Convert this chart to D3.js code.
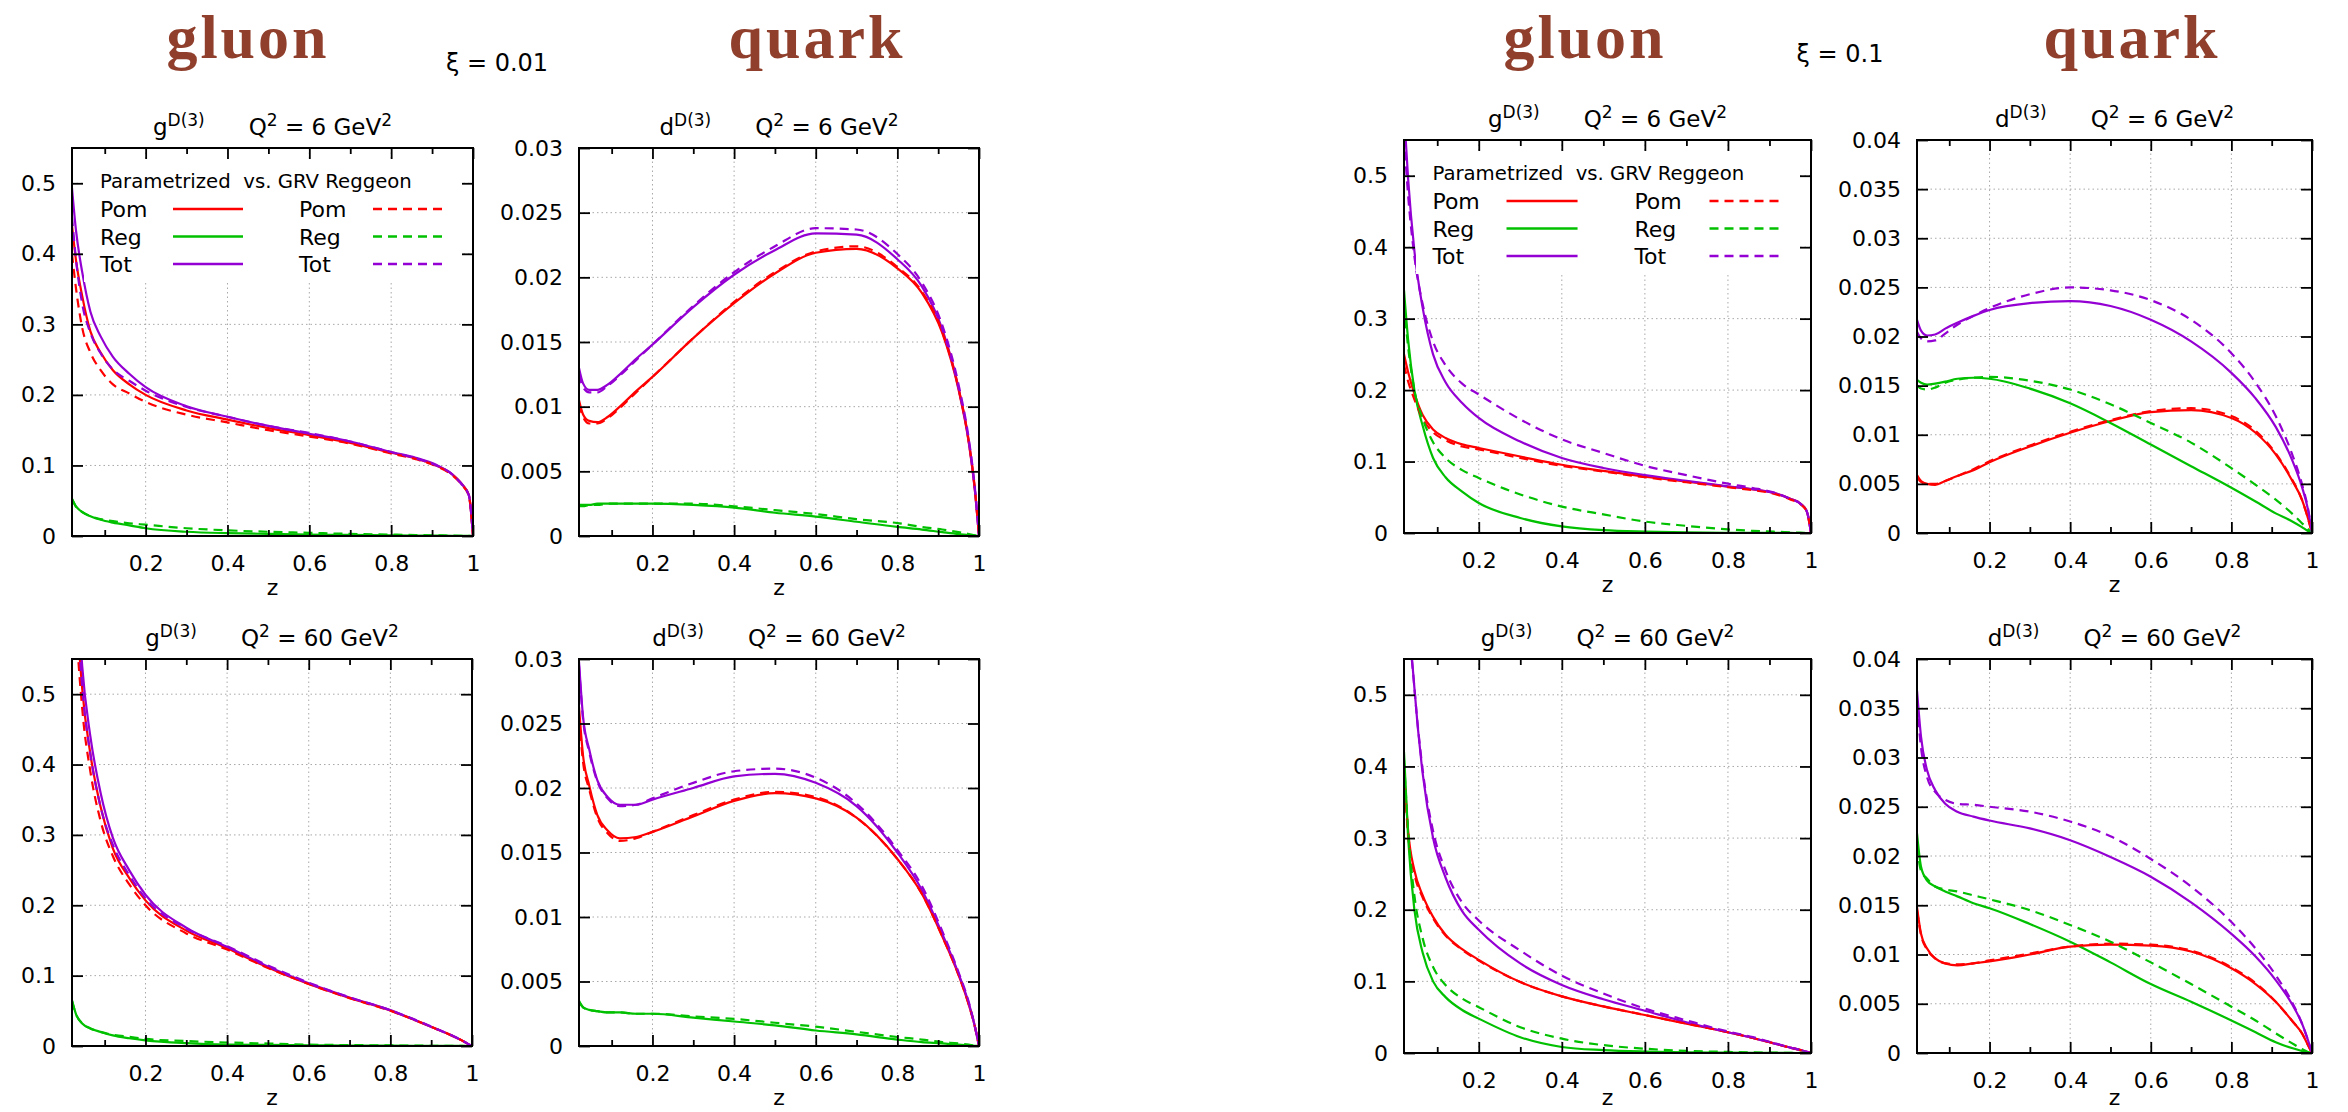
<!DOCTYPE html>
<html>
<head>
<meta charset="utf-8">
<script src="https://cdnjs.cloudflare.com/ajax/libs/d3/7.8.5/d3.min.js"></script>
<style>
body { margin: 0; background: #fff; }
text { font-family: "DejaVu Sans", sans-serif; fill: #000; }
</style>
</head>
<body>
<script>
var zGrid = [0.02, 0.03, 0.045, 0.065, 0.09, 0.12, 0.16, 0.2, 0.3, 0.4, 0.5, 0.6, 0.7, 0.8, 0.86, 0.91, 0.95, 0.975, 0.99, 1.0];

// gluon, xi = 0.01, Q2 = 6
var glu001q6_pomPar = [0.44, 0.39, 0.34, 0.29, 0.26, 0.235, 0.215, 0.200, 0.178, 0.165, 0.153, 0.143, 0.132, 0.118, 0.110, 0.100, 0.087, 0.072, 0.058, 0];
var glu001q6_regPar = [0.053, 0.042, 0.034, 0.028, 0.023, 0.019, 0.015, 0.011, 0.006, 0.004, 0.003, 0.002, 0.0015, 0.001, 0.0007, 0.0005, 0.0003, 0.0002, 0.0001, 0];
var glu001q6_totPar = [0.493, 0.432, 0.374, 0.318, 0.283, 0.254, 0.230, 0.211, 0.184, 0.169, 0.156, 0.145, 0.134, 0.119, 0.111, 0.101, 0.087, 0.072, 0.058, 0];
var glu001q6_pomGrv = [0.40, 0.35, 0.295, 0.26, 0.235, 0.215, 0.202, 0.190, 0.172, 0.161, 0.150, 0.141, 0.131, 0.117, 0.109, 0.099, 0.086, 0.071, 0.057, 0];
var glu001q6_regGrv = [0.052, 0.041, 0.034, 0.028, 0.024, 0.021, 0.018, 0.016, 0.011, 0.008, 0.006, 0.0045, 0.003, 0.002, 0.0014, 0.0009, 0.0005, 0.0003, 0.0001, 0];
var glu001q6_totGrv = [0.452, 0.391, 0.329, 0.288, 0.259, 0.236, 0.220, 0.206, 0.183, 0.169, 0.156, 0.146, 0.134, 0.119, 0.110, 0.100, 0.087, 0.071, 0.057, 0];

// quark, xi = 0.01, Q2 = 6
var qrk001q6_pomPar = [0.0105, 0.0094, 0.0089, 0.0088, 0.0092, 0.0100, 0.0112, 0.0123, 0.0153, 0.0180, 0.0203, 0.0219, 0.0222, 0.0207, 0.0188, 0.0157, 0.0113, 0.0072, 0.0035, 0];
var qrk001q6_regPar = [0.0024, 0.0024, 0.0024, 0.0025, 0.0025, 0.0025, 0.0025, 0.0025, 0.0024, 0.0022, 0.0018, 0.0015, 0.0011, 0.0007, 0.0005, 0.0003, 0.00015, 0.00008, 0.00003, 0];
var qrk001q6_totPar = [0.0130, 0.0118, 0.0113, 0.0113, 0.0117, 0.0125, 0.0137, 0.0148, 0.0177, 0.0202, 0.0221, 0.0234, 0.0233, 0.0214, 0.0193, 0.0160, 0.0114, 0.0073, 0.0035, 0];
var qrk001q6_pomGrv = [0.0102, 0.0092, 0.0087, 0.0087, 0.0091, 0.0099, 0.0111, 0.0123, 0.0153, 0.0181, 0.0204, 0.0220, 0.0224, 0.0208, 0.0189, 0.0158, 0.0114, 0.0073, 0.0036, 0];
var qrk001q6_regGrv = [0.0023, 0.0023, 0.0024, 0.0024, 0.0025, 0.0025, 0.0025, 0.0025, 0.0025, 0.0023, 0.0020, 0.0017, 0.0013, 0.0010, 0.0007, 0.0005, 0.0003, 0.00015, 0.00005, 0];
var qrk001q6_totGrv = [0.0125, 0.0115, 0.0111, 0.0111, 0.0116, 0.0124, 0.0136, 0.0148, 0.0178, 0.0204, 0.0224, 0.0238, 0.0237, 0.0218, 0.0196, 0.0163, 0.0117, 0.0075, 0.0037, 0];

// gluon, xi = 0.01, Q2 = 60
var glu001q60_pomPar = [0.83, 0.645, 0.508, 0.415, 0.34, 0.281, 0.239, 0.207, 0.164, 0.139, 0.1115, 0.088, 0.0683, 0.0505, 0.0367, 0.0248, 0.0149, 0.008, 0.003, 0];
var glu001q60_regPar = [0.065, 0.045, 0.032, 0.025, 0.020, 0.015, 0.011, 0.008, 0.004, 0.002, 0.0015, 0.001, 0.0007, 0.0005, 0.0003, 0.0002, 0.0001, 0.00005, 0.00002, 0];
var glu001q60_totPar = [0.89, 0.69, 0.54, 0.44, 0.36, 0.296, 0.25, 0.215, 0.168, 0.141, 0.113, 0.089, 0.069, 0.051, 0.037, 0.025, 0.015, 0.008, 0.003, 0];
var glu001q60_pomGrv = [0.78, 0.61, 0.48, 0.39, 0.32, 0.27, 0.23, 0.20, 0.16, 0.137, 0.111, 0.088, 0.068, 0.050, 0.037, 0.025, 0.015, 0.008, 0.003, 0];
var glu001q60_regGrv = [0.064, 0.045, 0.032, 0.025, 0.020, 0.016, 0.013, 0.010, 0.007, 0.005, 0.0035, 0.002, 0.0013, 0.0008, 0.0005, 0.0003, 0.0002, 0.0001, 0.00003, 0];
var glu001q60_totGrv = [0.844, 0.655, 0.512, 0.415, 0.34, 0.286, 0.243, 0.21, 0.167, 0.142, 0.1145, 0.09, 0.0693, 0.0508, 0.0375, 0.0253, 0.0152, 0.0081, 0.003, 0];

// quark, xi = 0.01, Q2 = 60
var qrk001q60_pomPar = [0.0263, 0.0225, 0.0202, 0.0179, 0.0167, 0.0161, 0.0162, 0.0166, 0.0178, 0.0190, 0.0196, 0.0192, 0.0177, 0.0145, 0.0118, 0.0085, 0.0055, 0.0032, 0.0015, 0];
var qrk001q60_regPar = [0.0035, 0.0030, 0.0028, 0.0027, 0.0026, 0.0026, 0.0025, 0.0025, 0.0022, 0.0019, 0.0016, 0.0012, 0.0009, 0.0005, 0.0003, 0.0002, 0.0001, 0.00005, 0.00002, 0];
var qrk001q60_totPar = [0.0298, 0.0255, 0.0230, 0.0206, 0.0193, 0.0187, 0.0187, 0.0191, 0.0200, 0.0209, 0.0211, 0.0204, 0.0186, 0.0150, 0.0121, 0.0087, 0.0056, 0.0033, 0.0015, 0];
var qrk001q60_pomGrv = [0.0255, 0.0220, 0.0199, 0.0177, 0.0165, 0.0159, 0.0161, 0.0166, 0.0179, 0.0191, 0.0197, 0.0193, 0.0177, 0.0145, 0.0118, 0.0085, 0.0055, 0.0032, 0.0015, 0];
var qrk001q60_regGrv = [0.0034, 0.0030, 0.0028, 0.0027, 0.0026, 0.0026, 0.0025, 0.0025, 0.0023, 0.0021, 0.0018, 0.0015, 0.0011, 0.0007, 0.0005, 0.0003, 0.0002, 0.0001, 0.00003, 0];
var qrk001q60_totGrv = [0.0295, 0.0253, 0.0228, 0.0205, 0.0192, 0.0186, 0.0187, 0.0192, 0.0204, 0.0213, 0.0215, 0.0208, 0.0188, 0.0152, 0.0124, 0.0089, 0.0057, 0.0034, 0.0015, 0];

// gluon, xi = 0.1, Q2 = 6
var glu01q6_pomPar = [0.25, 0.225, 0.195, 0.165, 0.145, 0.133, 0.124, 0.119, 0.107, 0.0955, 0.087, 0.079, 0.072, 0.065, 0.061, 0.056, 0.048, 0.041, 0.03, 0];
var glu01q6_regPar = [0.34, 0.27, 0.20, 0.15, 0.105, 0.078, 0.058, 0.042, 0.021, 0.0093, 0.004, 0.002, 0.001, 0.0003, 0.0002, 0.0001, 0.00005, 0.00002, 0.00001, 0];
var glu01q6_totPar = [0.59, 0.495, 0.395, 0.315, 0.25, 0.211, 0.182, 0.161, 0.128, 0.105, 0.091, 0.081, 0.073, 0.0653, 0.0612, 0.0561, 0.048, 0.041, 0.03, 0];
var glu01q6_pomGrv = [0.235, 0.212, 0.187, 0.16, 0.141, 0.130, 0.121, 0.117, 0.105, 0.094, 0.086, 0.078, 0.071, 0.064, 0.060, 0.055, 0.047, 0.040, 0.03, 0];
var glu01q6_regGrv = [0.32, 0.26, 0.20, 0.16, 0.127, 0.105, 0.088, 0.077, 0.054, 0.037, 0.026, 0.016, 0.010, 0.005, 0.003, 0.0018, 0.001, 0.0005, 0.0002, 0];
var glu01q6_totGrv = [0.555, 0.472, 0.387, 0.32, 0.268, 0.235, 0.209, 0.194, 0.159, 0.131, 0.112, 0.094, 0.081, 0.069, 0.063, 0.0568, 0.048, 0.0405, 0.0302, 0];

// quark, xi = 0.1, Q2 = 6
var qrk01q6_pomPar = [0.0059, 0.0053, 0.0050, 0.0049, 0.0053, 0.0058, 0.0064, 0.0072, 0.0088, 0.0102, 0.0114, 0.0123, 0.0125, 0.0117, 0.0102, 0.0080, 0.0054, 0.0034, 0.0015, 0];
var qrk01q6_regPar = [0.0156, 0.0153, 0.0151, 0.0152, 0.0154, 0.0157, 0.0158, 0.0157, 0.0147, 0.0132, 0.0112, 0.0090, 0.0068, 0.0046, 0.0032, 0.0020, 0.0012, 0.0006, 0.0002, 0];
var qrk01q6_totPar = [0.0217, 0.0206, 0.0201, 0.0202, 0.0208, 0.0214, 0.0221, 0.0227, 0.0234, 0.0236, 0.0231, 0.0217, 0.0195, 0.0163, 0.0137, 0.0108, 0.0075, 0.0047, 0.0024, 0];
var qrk01q6_pomGrv = [0.0057, 0.0052, 0.0050, 0.0050, 0.0053, 0.0058, 0.0065, 0.0073, 0.0089, 0.0103, 0.0115, 0.0124, 0.0127, 0.0119, 0.0104, 0.0081, 0.0055, 0.0034, 0.0015, 0];
var qrk01q6_regGrv = [0.0150, 0.0147, 0.0146, 0.0148, 0.0153, 0.0156, 0.0158, 0.0159, 0.0155, 0.0146, 0.0131, 0.0112, 0.0092, 0.0066, 0.0049, 0.0034, 0.0020, 0.0010, 0.0004, 0];
var qrk01q6_totGrv = [0.0205, 0.0198, 0.0195, 0.0196, 0.0203, 0.0212, 0.0221, 0.0229, 0.0243, 0.0250, 0.0247, 0.0237, 0.0217, 0.0183, 0.0153, 0.0119, 0.0081, 0.0050, 0.0025, 0];

// gluon, xi = 0.1, Q2 = 60
var glu01q60_pomPar = [0.40, 0.31, 0.255, 0.22, 0.19, 0.165, 0.145, 0.13, 0.099, 0.079, 0.065, 0.053, 0.041, 0.029, 0.021, 0.0135, 0.0075, 0.004, 0.0015, 0];
var glu01q60_regPar = [0.42, 0.30, 0.20, 0.14, 0.10, 0.078, 0.060, 0.048, 0.022, 0.0084, 0.004, 0.002, 0.001, 0.0004, 0.0002, 0.0001, 0.00005, 0.00002, 0.00001, 0];
var glu01q60_totPar = [0.82, 0.64, 0.51, 0.39, 0.30, 0.245, 0.198, 0.172, 0.125, 0.095, 0.075, 0.059, 0.043, 0.029, 0.021, 0.0135, 0.0075, 0.004, 0.0015, 0];
var glu01q60_pomGrv = [0.39, 0.305, 0.25, 0.217, 0.188, 0.164, 0.144, 0.129, 0.099, 0.079, 0.065, 0.053, 0.041, 0.029, 0.021, 0.0135, 0.0075, 0.004, 0.0015, 0];
var glu01q60_regGrv = [0.41, 0.31, 0.22, 0.16, 0.12, 0.095, 0.076, 0.064, 0.036, 0.020, 0.011, 0.006, 0.003, 0.0015, 0.0009, 0.0005, 0.0002, 0.0001, 0.00003, 0];
var glu01q60_totGrv = [0.80, 0.63, 0.51, 0.395, 0.31, 0.255, 0.21, 0.185, 0.143, 0.108, 0.083, 0.062, 0.0456, 0.030, 0.0222, 0.014, 0.0078, 0.0041, 0.0015, 0];

// quark, xi = 0.1, Q2 = 60
var qrk01q60_pomPar = [0.0148, 0.0121, 0.0106, 0.0096, 0.0091, 0.0089, 0.0091, 0.0093, 0.0100, 0.0108, 0.0110, 0.0109, 0.0103, 0.0086, 0.0070, 0.0052, 0.0033, 0.0020, 0.0008, 0];
var qrk01q60_regPar = [0.0223, 0.0189, 0.0175, 0.0169, 0.0164, 0.0159, 0.0152, 0.0147, 0.0131, 0.0113, 0.0092, 0.0070, 0.0052, 0.0033, 0.0021, 0.0011, 0.0005, 0.0002, 0.00005, 0];
var qrk01q60_totPar = [0.0368, 0.0321, 0.0287, 0.0267, 0.0253, 0.0245, 0.0240, 0.0236, 0.0228, 0.0216, 0.0199, 0.0179, 0.0153, 0.0121, 0.0098, 0.0074, 0.0050, 0.0030, 0.0013, 0];
var qrk01q60_pomGrv = [0.0145, 0.0120, 0.0105, 0.0096, 0.0091, 0.0090, 0.0091, 0.0094, 0.0101, 0.0108, 0.0111, 0.0110, 0.0104, 0.0087, 0.0071, 0.0052, 0.0033, 0.0020, 0.0008, 0];
var qrk01q60_regGrv = [0.0210, 0.0185, 0.0177, 0.0169, 0.0166, 0.0164, 0.0160, 0.0156, 0.0145, 0.0130, 0.0113, 0.0092, 0.0070, 0.0047, 0.0033, 0.0020, 0.0010, 0.0004, 0.0001, 0];
var qrk01q60_totGrv = [0.0355, 0.0310, 0.0280, 0.0265, 0.0257, 0.0253, 0.0252, 0.0250, 0.0245, 0.0235, 0.0220, 0.0197, 0.0169, 0.0133, 0.0106, 0.0079, 0.0052, 0.0030, 0.0013, 0];

// ticks
var xTicks = [0.2, 0.4, 0.6, 0.8, 1];
var xMinorTicks = [0.1, 0.3, 0.5, 0.7, 0.9];
var yTicksGluon = [0, 0.1, 0.2, 0.3, 0.4, 0.5];
var yTicksQuark001 = [0, 0.005, 0.01, 0.015, 0.02, 0.025, 0.03];
var yTicksQuark01 = [0, 0.005, 0.01, 0.015, 0.02, 0.025, 0.03, 0.035, 0.04];

var legendNames = ["Pom", "Reg", "Tot"];
var legendHeader = "Parametrized\u00a0\u00a0vs. GRV Reggeon";

// curve order: Pom, Reg, Tot (parametrized) then Pom, Reg, Tot (GRV)
var lineColors = ["#ff0000", "#00c000", "#9400d3"];

var width = 2348, height = 1112;

var svg = d3.select("body").append("svg")
    .attr("width", width)
    .attr("height", height)
    .style("display", "block");

svg.append("rect").attr("width", width).attr("height", height).attr("fill", "#fff");

var panels = [
  {left: 72, right: 473, top: 148, bottom: 536, yMax: 0.55, yTicks: yTicksGluon, pdf: "g", q2: "6", legend: true,
   series: [glu001q6_pomPar, glu001q6_regPar, glu001q6_totPar, glu001q6_pomGrv, glu001q6_regGrv, glu001q6_totGrv]},
  {left: 579, right: 979, top: 148, bottom: 536, yMax: 0.03, yTicks: yTicksQuark001, pdf: "d", q2: "6", legend: false,
   series: [qrk001q6_pomPar, qrk001q6_regPar, qrk001q6_totPar, qrk001q6_pomGrv, qrk001q6_regGrv, qrk001q6_totGrv]},
  {left: 72, right: 472, top: 659, bottom: 1046, yMax: 0.55, yTicks: yTicksGluon, pdf: "g", q2: "60", legend: false,
   series: [glu001q60_pomPar, glu001q60_regPar, glu001q60_totPar, glu001q60_pomGrv, glu001q60_regGrv, glu001q60_totGrv]},
  {left: 579, right: 979, top: 659, bottom: 1046, yMax: 0.03, yTicks: yTicksQuark001, pdf: "d", q2: "60", legend: false,
   series: [qrk001q60_pomPar, qrk001q60_regPar, qrk001q60_totPar, qrk001q60_pomGrv, qrk001q60_regGrv, qrk001q60_totGrv]},
  {left: 1404, right: 1811, top: 140, bottom: 533, yMax: 0.55, yTicks: yTicksGluon, pdf: "g", q2: "6", legend: true,
   series: [glu01q6_pomPar, glu01q6_regPar, glu01q6_totPar, glu01q6_pomGrv, glu01q6_regGrv, glu01q6_totGrv]},
  {left: 1917, right: 2312, top: 140, bottom: 533, yMax: 0.04, yTicks: yTicksQuark01, pdf: "d", q2: "6", legend: false,
   series: [qrk01q6_pomPar, qrk01q6_regPar, qrk01q6_totPar, qrk01q6_pomGrv, qrk01q6_regGrv, qrk01q6_totGrv]},
  {left: 1404, right: 1811, top: 659, bottom: 1053, yMax: 0.55, yTicks: yTicksGluon, pdf: "g", q2: "60", legend: false,
   series: [glu01q60_pomPar, glu01q60_regPar, glu01q60_totPar, glu01q60_pomGrv, glu01q60_regGrv, glu01q60_totGrv]},
  {left: 1917, right: 2312, top: 659, bottom: 1053, yMax: 0.04, yTicks: yTicksQuark01, pdf: "d", q2: "60", legend: false,
   series: [qrk01q60_pomPar, qrk01q60_regPar, qrk01q60_totPar, qrk01q60_pomGrv, qrk01q60_regGrv, qrk01q60_totGrv]}
];

var fmt = d3.format("~g");

function styleAxis(sel) {
  sel.attr("font-family", "DejaVu Sans, sans-serif").attr("font-size", 22);
  sel.select(".domain").remove();
  sel.selectAll(".tick line").attr("stroke", "#000").attr("stroke-width", 1.8);
}

panels.forEach(function(p, i) {
  var x = d3.scaleLinear().domain([0.02, 1]).range([p.left, p.right]);
  var y = d3.scaleLinear().domain([0, p.yMax]).range([p.bottom, p.top]);
  var g = svg.append("g");

  // dotted grid
  g.selectAll(".vgrid").data(xTicks.filter(function(d) { return d < 1; })).enter()
    .append("line")
    .attr("x1", function(d) { return x(d); }).attr("x2", function(d) { return x(d); })
    .attr("y1", p.top).attr("y2", p.bottom)
    .attr("stroke", "#a8a8a8").attr("stroke-width", 1).attr("stroke-dasharray", "1.5,3");
  g.selectAll(".hgrid").data(p.yTicks.filter(function(d) { return d > 0 && d < p.yMax; })).enter()
    .append("line")
    .attr("x1", p.left).attr("x2", p.right)
    .attr("y1", function(d) { return y(d); }).attr("y2", function(d) { return y(d); })
    .attr("stroke", "#a8a8a8").attr("stroke-width", 1).attr("stroke-dasharray", "1.5,3");

  // curves
  svg.append("clipPath").attr("id", "clip" + i)
    .append("rect").attr("x", p.left).attr("y", p.top)
    .attr("width", p.right - p.left).attr("height", p.bottom - p.top);

  var line = d3.line()
    .x(function(d) { return x(d[0]); })
    .y(function(d) { return y(d[1]); })
    .curve(d3.curveMonotoneX);

  g.append("g").attr("clip-path", "url(#clip" + i + ")")
    .selectAll("path").data(p.series).enter()
    .append("path")
    .attr("d", function(s) { return line(zGrid.map(function(z, k) { return [z, s[k]]; })); })
    .attr("fill", "none")
    .attr("stroke", function(s, k) { return lineColors[k % 3]; })
    .attr("stroke-width", 2.2)
    .attr("stroke-dasharray", function(s, k) { return k < 3 ? null : "9,6"; });

  // key
  if (p.legend) {
    var w = p.right - p.left;
    var kx = function(v) { return p.left + v * w / 401; };
    g.append("rect")
      .attr("x", p.left + 12).attr("y", p.top + 12)
      .attr("width", w - 24).attr("height", 122)
      .attr("fill", "#fff");
    g.append("text")
      .attr("x", kx(28)).attr("y", p.top + 40)
      .attr("font-size", 19.7)
      .text(legendHeader);
    legendNames.forEach(function(name, k) {
      var ly = p.top + 61 + k * 27.5;
      g.append("text").attr("x", kx(28)).attr("y", ly + 8).attr("font-size", 22).text(name);
      g.append("line").attr("x1", kx(101)).attr("x2", kx(171)).attr("y1", ly).attr("y2", ly)
        .attr("stroke", lineColors[k]).attr("stroke-width", 2.4);
      g.append("text").attr("x", kx(227)).attr("y", ly + 8).attr("font-size", 22).text(name);
      g.append("line").attr("x1", kx(301)).attr("x2", kx(371)).attr("y1", ly).attr("y2", ly)
        .attr("stroke", lineColors[k]).attr("stroke-width", 2.4).attr("stroke-dasharray", "9,6");
    });
  }

  // axes, ticks pointing inward
  g.append("g").attr("transform", "translate(0," + p.bottom + ")")
    .call(d3.axisBottom(x).tickValues(xTicks).tickSize(-11).tickPadding(19).tickFormat(fmt))
    .call(styleAxis);
  g.append("g").attr("transform", "translate(0," + p.bottom + ")")
    .call(d3.axisBottom(x).tickValues(xMinorTicks).tickSize(-6).tickFormat(""))
    .call(styleAxis);
  g.append("g").attr("transform", "translate(0," + p.top + ")")
    .call(d3.axisTop(x).tickValues(xTicks).tickSize(-11).tickFormat(""))
    .call(styleAxis);
  g.append("g").attr("transform", "translate(0," + p.top + ")")
    .call(d3.axisTop(x).tickValues(xMinorTicks).tickSize(-6).tickFormat(""))
    .call(styleAxis);
  g.append("g").attr("transform", "translate(" + p.left + ",0)")
    .call(d3.axisLeft(y).tickValues(p.yTicks).tickSize(-11).tickPadding(16).tickFormat(fmt))
    .call(styleAxis);
  g.append("g").attr("transform", "translate(" + p.right + ",0)")
    .call(d3.axisRight(y).tickValues(p.yTicks).tickSize(-11).tickFormat(""))
    .call(styleAxis);

  // frame
  g.append("rect")
    .attr("x", p.left).attr("y", p.top)
    .attr("width", p.right - p.left).attr("height", p.bottom - p.top)
    .attr("fill", "none").attr("stroke", "#000").attr("stroke-width", 2);

  // axis label, kept inside the page at the bottom edge
  g.append("text")
    .attr("x", (p.left + p.right) / 2).attr("y", Math.min(p.bottom + 59, height - 7))
    .attr("text-anchor", "middle").attr("font-size", 22)
    .text("z");

  // panel title
  var t = g.append("text")
    .attr("x", (p.left + p.right) / 2).attr("y", p.top - 13)
    .attr("text-anchor", "middle").attr("font-size", 23);
  t.append("tspan").text(p.pdf);
  t.append("tspan").attr("dy", -9).attr("font-size", 17).text("D(3)");
  t.append("tspan").attr("dy", 9).attr("dx", 44).text("Q");
  t.append("tspan").attr("dy", -9).attr("font-size", 17).text("2");
  t.append("tspan").attr("dy", 9).text(" = " + p.q2 + " GeV");
  t.append("tspan").attr("dy", -9).attr("font-size", 17).text("2");
});

// column headers
var headers = [
  {text: "gluon", x: 248, y: 58, serif: true},
  {text: "quark", x: 817, y: 58, serif: true},
  {text: "gluon", x: 1585, y: 58, serif: true},
  {text: "quark", x: 2132, y: 58, serif: true},
  {text: "\u03be = 0.01", x: 497, y: 71, serif: false},
  {text: "\u03be = 0.1", x: 1840, y: 62, serif: false}
];

svg.selectAll(".hdr").data(headers).enter()
  .append("text")
  .attr("x", function(d) { return d.x; })
  .attr("y", function(d) { return d.y; })
  .attr("text-anchor", "middle")
  .style("font-family", function(d) { return d.serif ? "'Liberation Serif', serif" : "'DejaVu Sans', sans-serif"; })
  .style("font-weight", function(d) { return d.serif ? "bold" : "normal"; })
  .style("fill", function(d) { return d.serif ? "#8f3f2c" : "#000"; })
  .attr("font-size", function(d) { return d.serif ? 62 : 24; })
  .attr("letter-spacing", function(d) { return d.serif ? 3 : 0; })
  .text(function(d) { return d.text; });
</script>
</body>
</html>
